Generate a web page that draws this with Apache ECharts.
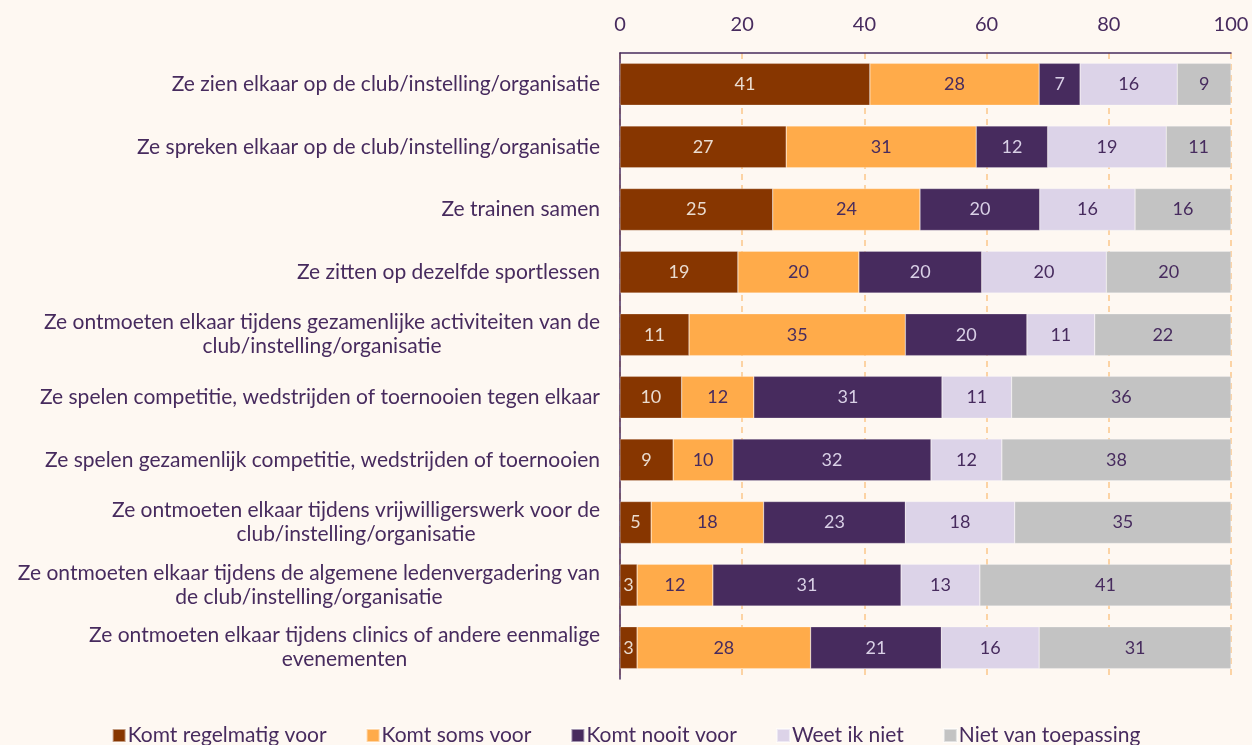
<!DOCTYPE html>
<html>
<head>
<meta charset="utf-8">
<script src="https://cdn.jsdelivr.net/npm/echarts@6/dist/echarts.min.js"></script>
<style>
  html, body { margin: 0; padding: 0; background: #fef8f2; }
  #chart { width: 1252px; height: 745px; }
</style>
</head>
<body>
<div id="chart"></div>
<script>
const categories = [
  'Ze zien elkaar op de club/instelling/organisatie',
  'Ze spreken elkaar op de club/instelling/organisatie',
  'Ze trainen samen',
  'Ze zitten op dezelfde sportlessen',
  'Ze ontmoeten elkaar tijdens gezamenlijke activiteiten van de\nclub/instelling/organisatie',
  'Ze spelen competitie, wedstrijden of toernooien tegen elkaar',
  'Ze spelen gezamenlijk competitie, wedstrijden of toernooien',
  'Ze ontmoeten elkaar tijdens vrijwilligerswerk voor de\nclub/instelling/organisatie',
  'Ze ontmoeten elkaar tijdens de algemene ledenvergadering van\nde club/instelling/organisatie',
  'Ze ontmoeten elkaar tijdens clinics of andere eenmalige\nevenementen'
];
const seriesNames = ['Komt regelmatig voor', 'Komt soms voor', 'Komt nooit voor', 'Weet ik niet', 'Niet van toepassing'];
const regelmatig = [40.9, 27.2, 25.0, 19.3, 11.3, 10.1, 8.7, 5.1, 2.8, 2.8];
const soms       = [27.7, 31.1, 24.1, 19.8, 35.4, 11.8, 9.8, 18.4, 12.4, 28.4];
const nooit      = [6.7, 11.7, 19.6, 20.1, 19.9, 30.8, 32.4, 23.2, 30.8, 21.4];
const weetNiet   = [15.9, 19.4, 15.6, 20.4, 11.1, 11.4, 11.6, 17.9, 12.9, 16.0];
const nvt        = [8.8, 10.6, 15.7, 20.4, 22.3, 35.9, 37.5, 35.4, 41.1, 31.4];
const xTicks = [0, 20, 40, 60, 80, 100];

const colors = ['#873600', '#ffab4a', '#472b5e', '#dcd3e8', '#c3c3c3'];
const labelColors = ['#eadccf', '#472b5e', '#d9d0e6', '#472b5e', '#472b5e'];
const textColor = '#472b5e';
const font = 'Lato, "Noto Sans", sans-serif';

const chart = echarts.init(document.getElementById('chart'));
const data = [regelmatig, soms, nooit, weetNiet, nvt];

chart.setOption({
  backgroundColor: '#fef8f2',
  textStyle: { fontFamily: font, color: textColor },
  animation: false,
  color: colors,
  grid: { left: 620, right: 21, top: 53, bottom: 66 },
  legend: {
    data: seriesNames,
    left: 'center',
    top: 720,
    itemWidth: 13,
    itemHeight: 13,
    itemGap: 39,
    icon: 'rect',
    textStyle: { fontSize: 21, color: textColor, fontFamily: font, padding: [0, 0, 0, -3] }
  },
  xAxis: {
    type: 'value',
    position: 'top',
    min: xTicks[0],
    max: xTicks[xTicks.length - 1],
    interval: 20,
    axisLine: { show: true, lineStyle: { color: textColor, width: 1.5 } },
    axisTick: { show: false },
    axisLabel: { fontSize: 20, color: textColor, fontFamily: font, margin: 18 },
    splitLine: { show: true, lineStyle: { color: '#fcc68a', type: [6, 5], width: 1.5 } }
  },
  yAxis: {
    type: 'category',
    inverse: true,
    data: categories,
    axisLine: { show: true, lineStyle: { color: textColor, width: 1.5 } },
    axisTick: { show: false },
    axisLabel: {
      margin: 20,
      fontSize: 21,
      color: textColor,
      fontFamily: font,
      lineHeight: 24,
      formatter: v => v.split('\n').map(s => '{c|' + s + '}').join('\n'),
      rich: { c: { align: 'center', fontSize: 21, color: textColor, fontFamily: font, lineHeight: 24 } }
    }
  },
  series: data.map((vals, i) => ({
    name: seriesNames[i],
    type: 'bar',
    stack: 'total',
    barWidth: '67%',
    data: vals,
    itemStyle: { color: colors[i], borderColor: 'rgba(255,255,255,0.5)', borderWidth: 0.5 },
    label: {
      show: true,
      position: 'inside',
      fontSize: 18,
      fontFamily: font,
      color: labelColors[i],
      padding: [3, 0, 0, 0],
      formatter: p => Math.round(p.value)
    }
  }))
});
</script>
</body>
</html>
